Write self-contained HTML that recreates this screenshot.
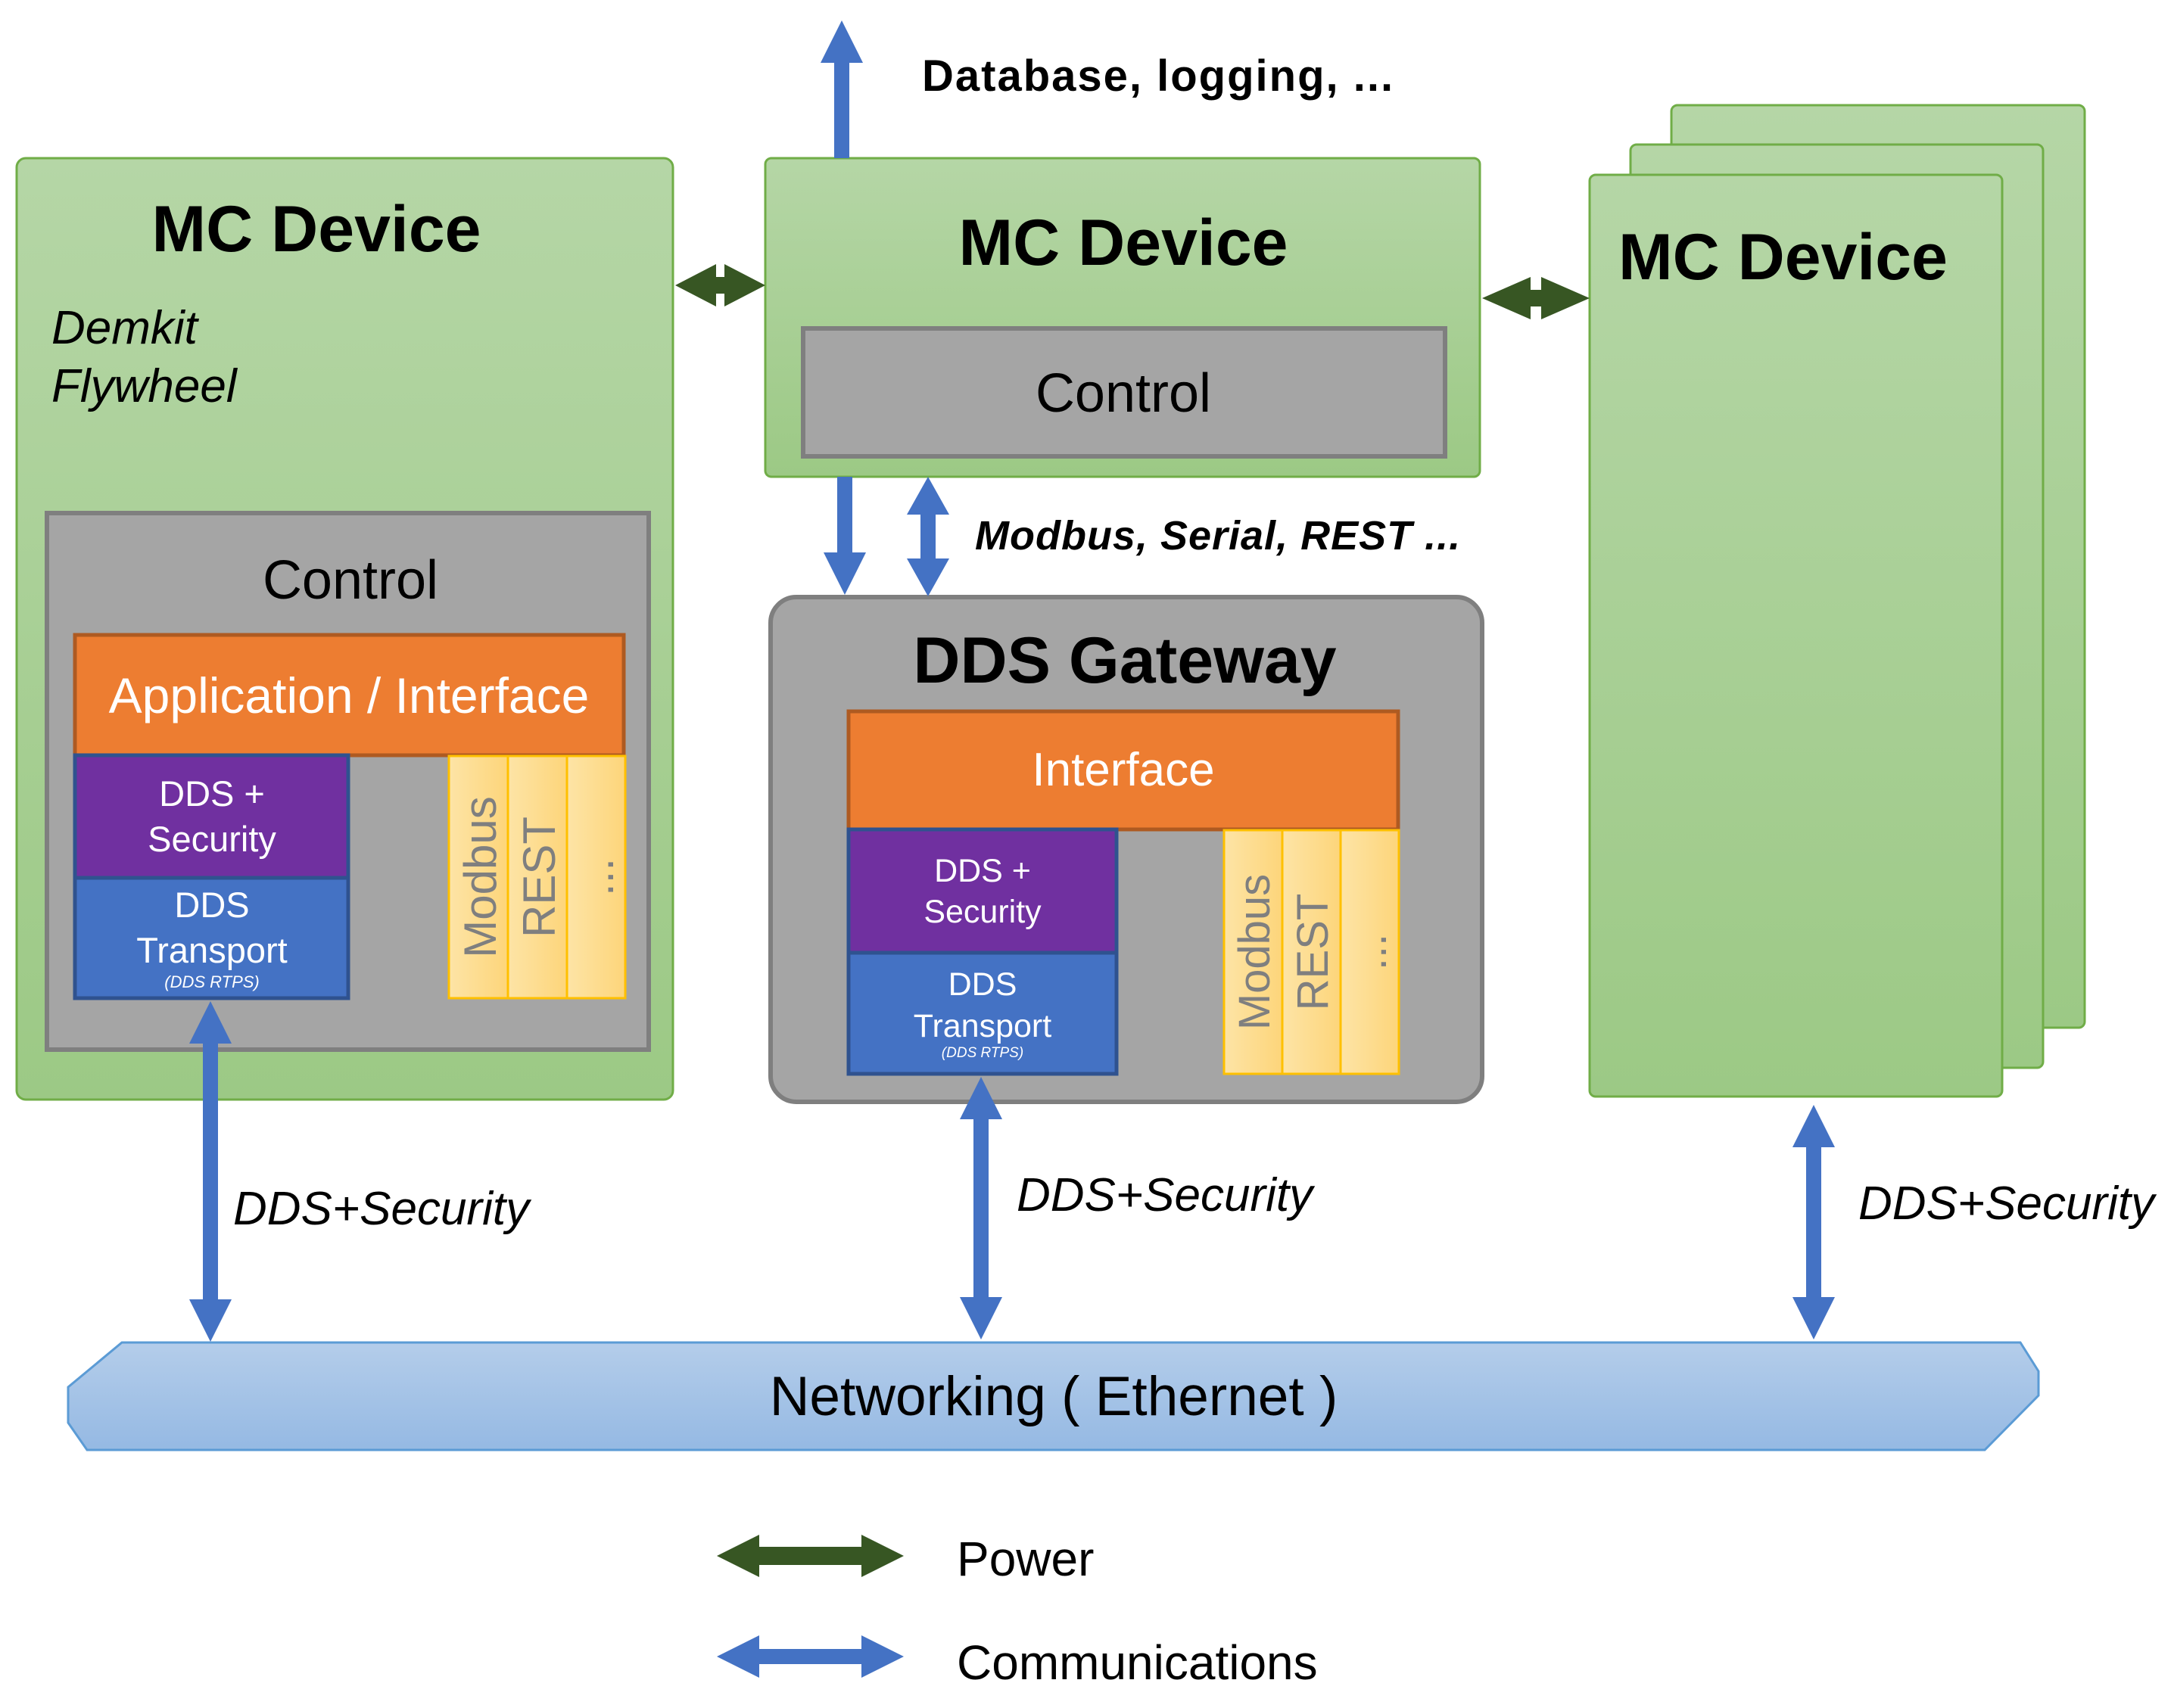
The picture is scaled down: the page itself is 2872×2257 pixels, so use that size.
<!DOCTYPE html>
<html><head><meta charset="utf-8"><style>
html,body{margin:0;padding:0;background:#fff}
svg{display:block}
text{font-family:"Liberation Sans",Arial,sans-serif}
</style></head><body>
<svg width="2872" height="2257" viewBox="0 0 2872 2257" xmlns="http://www.w3.org/2000/svg">
<defs>
<linearGradient id="g" x1="0" y1="0" x2="0" y2="1"><stop offset="0" stop-color="#b5d6a6"/><stop offset="1" stop-color="#9cc985"/></linearGradient>
<linearGradient id="y" x1="0" y1="0" x2="1" y2="0"><stop offset="0" stop-color="#fde4a6"/><stop offset="1" stop-color="#fdd57a"/></linearGradient>
<linearGradient id="n" x1="0" y1="0" x2="0" y2="1"><stop offset="0" stop-color="#b4cdea"/><stop offset="1" stop-color="#95b9e3"/></linearGradient>
</defs>

<!-- Left device -->
<rect x="22" y="209" width="867" height="1244" rx="12" fill="url(#g)" stroke="#70ad47" stroke-width="3"/>
<text x="418" y="332" font-size="86" font-weight="bold" text-anchor="middle">MC Device</text>
<text x="68" y="454" font-size="62" font-style="italic">Demkit</text>
<text x="68" y="531" font-size="62" font-style="italic">Flywheel</text>
<rect x="62" y="678" width="795" height="709" fill="#a5a5a5" stroke="#7f7f7f" stroke-width="6"/>
<text x="463" y="791" font-size="72" text-anchor="middle">Control</text>
<rect x="99" y="839" width="725" height="159" fill="#ed7d31" stroke="#ae5a21" stroke-width="5"/>
<text x="461" y="942" font-size="66" fill="#fff" text-anchor="middle">Application / Interface</text>
<rect x="99" y="998" width="361" height="162" fill="#7030a0" stroke="#2f528f" stroke-width="5"/>
<text x="280" y="1065" font-size="47" fill="#fff" text-anchor="middle">DDS +</text>
<text x="280" y="1125" font-size="47" fill="#fff" text-anchor="middle">Security</text>
<rect x="99" y="1160" width="361" height="159" fill="#4472c4" stroke="#2f528f" stroke-width="5"/>
<text x="280" y="1212" font-size="47" fill="#fff" text-anchor="middle">DDS</text>
<text x="280" y="1272" font-size="47" fill="#fff" text-anchor="middle">Transport</text>
<text x="280" y="1305" font-size="22" font-style="italic" fill="#fff" text-anchor="middle">(DDS RTPS)</text>
<g stroke="#ffc000" stroke-width="3" fill="url(#y)">
<rect x="593" y="999" width="78" height="320"/><rect x="671" y="999" width="78" height="320"/><rect x="749" y="999" width="77" height="320"/></g>
<text transform="translate(655,1159) rotate(-90)" font-size="60" fill="#7f7f7f" text-anchor="middle">Modbus</text>
<text transform="translate(733,1159) rotate(-90)" font-size="60" fill="#7f7f7f" text-anchor="middle">REST</text>
<text transform="translate(810,1159) rotate(-90)" font-size="60" fill="#7f7f7f" text-anchor="middle">...</text>

<!-- Middle device -->
<rect x="1011" y="209" width="944" height="421" rx="8" fill="url(#g)" stroke="#70ad47" stroke-width="3"/>
<text x="1484" y="350" font-size="86" font-weight="bold" text-anchor="middle">MC Device</text>
<rect x="1061" y="434" width="848" height="169" fill="#a5a5a5" stroke="#7f7f7f" stroke-width="6"/>
<text x="1484" y="544" font-size="72" text-anchor="middle">Control</text>
<text x="1218" y="120" font-size="58" font-weight="bold" letter-spacing="2">Database, logging, ...</text>
<text x="1288" y="726" font-size="54" font-weight="bold" font-style="italic" letter-spacing="1">Modbus, Serial, REST ...</text>

<!-- Gateway -->
<rect x="1018" y="789" width="940" height="667" rx="34" fill="#a5a5a5" stroke="#7f7f7f" stroke-width="6"/>
<text x="1486" y="902" font-size="86" font-weight="bold" text-anchor="middle">DDS Gateway</text>
<rect x="1121" y="940" width="726" height="156" fill="#ed7d31" stroke="#ae5a21" stroke-width="5"/>
<text x="1484" y="1038" font-size="62" fill="#fff" text-anchor="middle">Interface</text>
<rect x="1121" y="1096" width="354" height="163" fill="#7030a0" stroke="#2f528f" stroke-width="5"/>
<text x="1298" y="1165" font-size="43" fill="#fff" text-anchor="middle">DDS +</text>
<text x="1298" y="1219" font-size="43" fill="#fff" text-anchor="middle">Security</text>
<rect x="1121" y="1259" width="354" height="160" fill="#4472c4" stroke="#2f528f" stroke-width="5"/>
<text x="1298" y="1315" font-size="43" fill="#fff" text-anchor="middle">DDS</text>
<text x="1298" y="1370" font-size="43" fill="#fff" text-anchor="middle">Transport</text>
<text x="1298" y="1397" font-size="19" font-style="italic" fill="#fff" text-anchor="middle">(DDS RTPS)</text>
<g stroke="#ffc000" stroke-width="3" fill="url(#y)">
<rect x="1617" y="1097" width="77" height="322"/><rect x="1694" y="1097" width="77" height="322"/><rect x="1771" y="1097" width="77" height="322"/></g>
<text transform="translate(1677,1258) rotate(-90)" font-size="58" fill="#7f7f7f" text-anchor="middle">Modbus</text>
<text transform="translate(1754,1258) rotate(-90)" font-size="58" fill="#7f7f7f" text-anchor="middle">REST</text>
<text transform="translate(1831,1258) rotate(-90)" font-size="58" fill="#7f7f7f" text-anchor="middle">...</text>

<!-- Right stack -->
<rect x="2208" y="139" width="546" height="1219" rx="8" fill="url(#g)" stroke="#70ad47" stroke-width="3"/>
<rect x="2154" y="191" width="545" height="1220" rx="8" fill="url(#g)" stroke="#70ad47" stroke-width="3"/>
<rect x="2100" y="231" width="545" height="1218" rx="8" fill="url(#g)" stroke="#70ad47" stroke-width="3"/>
<text x="2138" y="369" font-size="86" font-weight="bold">MC Device</text>

<!-- Network -->
<polygon points="161,1774 2669,1774 2693,1812 2693,1844 2622,1916 115,1916 90,1880 90,1833" fill="url(#n)" stroke="#5b9bd5" stroke-width="3"/>
<text x="1392" y="1870" font-size="73" text-anchor="middle">Networking ( Ethernet )</text>

<!-- Blue arrows -->
<g fill="#4472c4">
<polygon points="278,1323 306,1379 288,1379 288,1717 306,1717 278,1773 250,1717 268,1717 268,1379 250,1379"/>
<polygon points="1296,1423 1324,1479 1306,1479 1306,1714 1324,1714 1296,1770 1268,1714 1286,1714 1286,1479 1268,1479"/>
<polygon points="2396,1460 2424,1516 2406,1516 2406,1714 2424,1714 2396,1770 2368,1714 2386,1714 2386,1516 2368,1516"/>
<polygon points="1112,27 1140,83 1122,83 1122,209 1102,209 1102,83 1084,83"/>
<polygon points="1106,630 1126,630 1126,730 1144,730 1116,786 1088,730 1106,730"/>
<polygon points="1226,630 1254,680 1236,680 1236,738 1254,738 1226,788 1198,738 1216,738 1216,680 1198,680"/>
<polygon points="947,2189 1003,2161 1003,2179 1138,2179 1138,2161 1194,2189 1138,2217 1138,2199 1003,2199 1003,2217"/>
</g>
<text x="308" y="1618" font-size="62" font-style="italic">DDS+Security</text>
<text x="1343" y="1600" font-size="62" font-style="italic">DDS+Security</text>
<text x="2455" y="1611" font-size="62" font-style="italic">DDS+Security</text>

<!-- Power arrows -->
<g fill="#375623">
<polygon points="892,377 946,349 946,366 957,366 957,349 1011,377 957,405 957,388 946,388 946,405"/>
<polygon points="1958,394 2022,366 2022,383 2036,383 2036,366 2100,394 2036,422 2036,405 2022,405 2022,422"/>
<polygon points="947,2056 1003,2028 1003,2044 1138,2044 1138,2028 1194,2056 1138,2084 1138,2068 1003,2068 1003,2084"/>
</g>
<text x="1264" y="2082" font-size="64">Power</text>
<text x="1264" y="2219" font-size="64">Communications</text>
</svg>
</body></html>
